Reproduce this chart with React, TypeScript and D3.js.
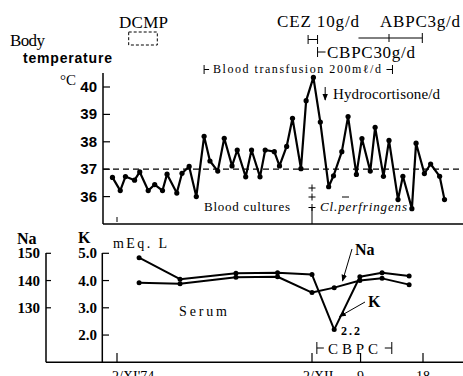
import React from "react";
import * as d3 from "d3";

// ---- Data ----
const tempDays = [-0.7, 0.5, 1.3, 2.7, 3.5, 4.8, 5.8, 7.0, 7.7, 9.2, 10.0, 11.1, 12.2, 13.4, 14.3, 15.5, 16.5, 17.7, 18.5, 19.8, 20.7, 22.0, 22.8, 24.2, 25.0, 26.1, 27.0, 28.3, 29.1, 30.2, 31.2, 32.4, 33.1, 34.3, 35.2, 36.4, 37.2, 38.4, 39.1, 40.3, 41.1, 42.4, 43.1, 44.4, 45.0, 46.2, 47.1, 48.4, 49.1];
const tempValues = [36.7, 36.22, 36.73, 36.6, 36.9, 36.22, 36.44, 36.22, 36.82, 36.13, 36.85, 37.1, 36.0, 38.2, 37.3, 36.93, 38.13, 37.12, 37.7, 36.72, 37.7, 36.72, 37.7, 37.64, 37.12, 37.83, 38.86, 37.02, 39.5, 40.35, 38.72, 36.36, 36.76, 37.64, 38.92, 36.81, 38.12, 36.93, 38.53, 36.74, 38.05, 35.89, 36.74, 35.56, 37.95, 36.84, 37.19, 36.74, 35.89];

const serumDays = [3.4, 9.7, 18.3, 24.7, 30.0, 33.2, 36.9, 40.1, 44.0];
const kValues = [4.84, 4.05, 4.27, 4.29, 4.22, 2.2, 4.14, 4.29, 4.17];
const naValues = [139.2, 138.8, 141.2, 141.4, 135.6, 137.4, 140.0, 140.8, 138.5];

const tempTicks = [36, 37, 38, 39, 40];
const naTicks = [130, 140, 150];
const kTicks = [2, 3, 4, 5];
const dateTickDays = [0, 30, 37, 46];
const dateTickLabels = ["2/XI'74", "2/XII", "9", "18"];

// ---- Scales ----
const x = d3.scaleLinear().domain([0, 30, 46]).range([117, 312, 423]);
const yT = d3.scaleLinear().domain([35, 40]).range([224, 87]);
const yK = d3.scaleLinear().domain([1, 5]).range([362.3, 253.3]);
const yNa = d3.scaleLinear().domain([110, 150]).range([362.3, 253.3]);

const SERIF = "'Liberation Serif', 'DejaVu Serif', serif";
const SANS = "'Liberation Sans', Arial, sans-serif";

export default function App() {
  const tempPts = tempDays.map((d, i) => [x(d), yT(tempValues[i])] as [number, number]);
  const kPts = serumDays.map((d, i) => [x(d), yK(kValues[i])] as [number, number]);
  const naPts = serumDays.map((d, i) => [x(d), yNa(naValues[i])] as [number, number]);
  const line = d3.line();
  const W = 463;

  const cross = (cx: number, cy: number, key: string) => (
    <g key={key} stroke="#000" strokeWidth={1}>
      <line x1={cx - 3.5} x2={cx + 3.5} y1={cy} y2={cy} />
      <line x1={cx} x2={cx} y1={cy - 3.5} y2={cy + 3.5} />
    </g>
  );

  return (
    <svg width={463} height={376} style={{ position: "absolute", left: 0, top: 0, background: "#fff" }}>
      <defs>
        <marker id="ah" viewBox="0 0 10 10" refX="9" refY="5" markerWidth="7" markerHeight="7" orient="auto-start-reverse">
          <path d="M0,1 L10,5 L0,9 z" fill="#000" />
        </marker>
      </defs>
      <rect width={463} height={376} fill="#fff" />

      {/* ---------- Upper panel ---------- */}
      <line x1={103} x2={103} y1={73} y2={224} stroke="#000" strokeWidth={1.5} />
      <line x1={103} x2={W} y1={224} y2={224} stroke="#000" strokeWidth={1.5} />
      {tempTicks.map((t) => (
        <g key={"tt" + t}>
          <line x1={103} x2={110} y1={yT(t)} y2={yT(t)} stroke="#000" strokeWidth={1.2} />
          <text x={97} y={yT(t) + 5} textAnchor="end" fontFamily={SANS} fontWeight="bold" fontSize={15}>{t}</text>
        </g>
      ))}
      <line x1={103} x2={W} y1={yT(37)} y2={yT(37)} stroke="#000" strokeWidth={1.2} strokeDasharray="6,4" />
      <line x1={x(0)} x2={x(0)} y1={217} y2={222} stroke="#000" strokeWidth={1} />

      <path d={line(tempPts) || ""} fill="none" stroke="#000" strokeWidth={2.2} strokeLinejoin="round" />
      {tempPts.map((p, i) => (
        <circle key={"tp" + i} cx={p[0]} cy={p[1]} r={2.6} fill="#000" />
      ))}

      <text x={10} y={46} fontFamily={SERIF} fontSize={17} textLength={35}>Body</text>
      <text x={23} y={63} fontFamily={SANS} fontWeight="bold" fontSize={14} textLength={89}>temperature</text>
      <text x={60} y={85} fontFamily={SERIF} fontSize={15}>°C</text>

      <text x={119} y={28} fontFamily={SERIF} fontSize={17} textLength={49}>DCMP</text>
      <rect x={x(1.8)} y={32} width={x(6.2) - x(1.8)} height={13} fill="none" stroke="#000" strokeWidth={1} strokeDasharray="3,2" />

      <text x={277} y={27} fontFamily={SERIF} fontSize={17} textLength={82}>CEZ  10g/d</text>
      <text x={380} y={27} fontFamily={SERIF} fontSize={17} textLength={80}>ABPC3g/d</text>
      {/* CEZ bracket */}
      <g stroke="#000" strokeWidth={1}>
        <line x1={x(29.4)} x2={x(29.4)} y1={35} y2={44} />
        <line x1={x(30.8)} x2={x(30.8)} y1={35} y2={44} />
        <line x1={x(29.4)} x2={x(30.8)} y1={39.5} y2={39.5} />
        {/* ABPC bracket */}
        <line x1={x(36.7)} x2={x(45.9)} y1={38} y2={38} />
        <line x1={x(41.1)} x2={x(41.1)} y1={34} y2={42} />
        <line x1={x(45.9)} x2={x(45.9)} y1={33} y2={43} />
        {/* CBPC30 start */}
        <line x1={x(30.8)} x2={x(30.8)} y1={47} y2={57} />
        <line x1={x(30.8)} x2={x(30.8) + 8} y1={52} y2={52} />
        {/* Blood transfusion */}
        <line x1={x(13.4)} x2={x(13.4)} y1={65} y2={74} />
        <line x1={x(13.4)} x2={x(13.4) + 5} y1={69.5} y2={69.5} />
        <line x1={x(41.6)} x2={x(41.6)} y1={65} y2={74} />
        <line x1={x(41.6) - 6} x2={x(41.6)} y1={69.5} y2={69.5} />
      </g>
      <text x={327} y={58} fontFamily={SERIF} fontSize={17} textLength={88}>CBPC30g/d</text>
      <text x={213} y={73} fontFamily={SERIF} fontSize={12} textLength={168}>Blood transfusion 200mℓ/d</text>

      <line x1={x(31.9)} x2={x(31.9)} y1={87} y2={100} stroke="#000" strokeWidth={1} markerEnd="url(#ah)" />
      <text x={333} y={99} fontFamily={SERIF} fontSize={15} textLength={107}>Hydrocortisone/d</text>

      <text x={204} y={211} fontFamily={SERIF} fontSize={13} textLength={86}>Blood cultures</text>
      <text x={320} y={211} fontFamily={SERIF} fontSize={13} fontStyle="italic" textLength={87}>Cl.perfringens</text>
      {cross(x(30), 188, "c1")}
      {cross(x(30), 197, "c2")}
      {cross(x(30), 207.5, "c3")}
      <line x1={x(30)} x2={x(30)} y1={207.5} y2={224} stroke="#000" strokeWidth={1} />
      <line x1={342} x2={349} y1={197} y2={197} stroke="#000" strokeWidth={1} />

      {/* ---------- Lower panel ---------- */}
      <line x1={46} x2={46} y1={253} y2={362.3} stroke="#000" strokeWidth={1.5} />
      <line x1={102.3} x2={102.3} y1={253} y2={362.3} stroke="#000" strokeWidth={1.5} />
      <line x1={46} x2={W} y1={362.3} y2={362.3} stroke="#000" strokeWidth={1.5} />
      {naTicks.map((t) => (
        <g key={"na" + t}>
          <line x1={46} x2={51} y1={yNa(t)} y2={yNa(t)} stroke="#000" strokeWidth={1.2} />
          <text x={40} y={yNa(t) + 5} textAnchor="end" fontFamily={SERIF} fontWeight="bold" fontSize={15}>{t}</text>
        </g>
      ))}
      {kTicks.map((t) => (
        <g key={"k" + t}>
          <line x1={102.3} x2={109} y1={yK(t)} y2={yK(t)} stroke="#000" strokeWidth={1.2} />
          <text x={97} y={yK(t) + 5} textAnchor="end" fontFamily={SERIF} fontWeight="bold" fontSize={15}>{t.toFixed(1)}</text>
        </g>
      ))}
      {dateTickDays.map((d, i) => (
        <g key={"dt" + i}>
          <line x1={x(d)} x2={x(d)} y1={353} y2={362.3} stroke="#000" strokeWidth={1.2} />
          <text x={i === 0 ? x(d) - 5 : i === 1 ? x(d) - 9 : x(d)} y={381} textAnchor={i < 2 ? "start" : "middle"} fontFamily={SERIF} fontSize={14}>{dateTickLabels[i]}</text>
        </g>
      ))}

      <text x={17} y={244} fontFamily={SERIF} fontWeight="bold" fontSize={16}>Na</text>
      <text x={78} y={243} fontFamily={SERIF} fontWeight="bold" fontSize={16}>K</text>
      <text x={113} y={248} fontFamily={SERIF} fontSize={14} textLength={54}>mEq. L</text>
      <text x={179} y={316} fontFamily={SERIF} fontSize={14} textLength={48}>Serum</text>

      <path d={line(naPts) || ""} fill="none" stroke="#000" strokeWidth={2} strokeLinejoin="round" />
      <path d={line(kPts) || ""} fill="none" stroke="#000" strokeWidth={2} strokeLinejoin="round" />
      {naPts.map((p, i) => (
        <circle key={"np" + i} cx={p[0]} cy={p[1]} r={2.5} fill="#000" />
      ))}
      {kPts.map((p, i) => (
        <circle key={"kp" + i} cx={p[0]} cy={p[1]} r={2.5} fill="#000" />
      ))}

      <text x={355} y={255} fontFamily={SERIF} fontWeight="bold" fontSize={16}>Na</text>
      <line x1={352} x2={342.5} y1={249} y2={281} stroke="#000" strokeWidth={1} markerEnd="url(#ah)" />
      <text x={368} y={307} fontFamily={SERIF} fontWeight="bold" fontSize={16}>K</text>
      <line x1={365} x2={339.5} y1={302} y2={316.5} stroke="#000" strokeWidth={1} markerEnd="url(#ah)" />
      <text x={341} y={335} fontFamily={SERIF} fontWeight="bold" fontSize={12} textLength={19}>2.2</text>

      <g stroke="#000" strokeWidth={1}>
        <line x1={x(30.7)} x2={x(30.7)} y1={342} y2={354} />
        <line x1={x(30.7)} x2={x(30.7) + 7} y1={348} y2={348} />
        <line x1={x(41.5)} x2={x(41.5)} y1={342} y2={354} />
        <line x1={x(41.5) - 7} x2={x(41.5)} y1={348} y2={348} />
      </g>
      <text x={328} y={354} fontFamily={SERIF} fontSize={15} textLength={50}>CBPC</text>
    </svg>
  );
}
